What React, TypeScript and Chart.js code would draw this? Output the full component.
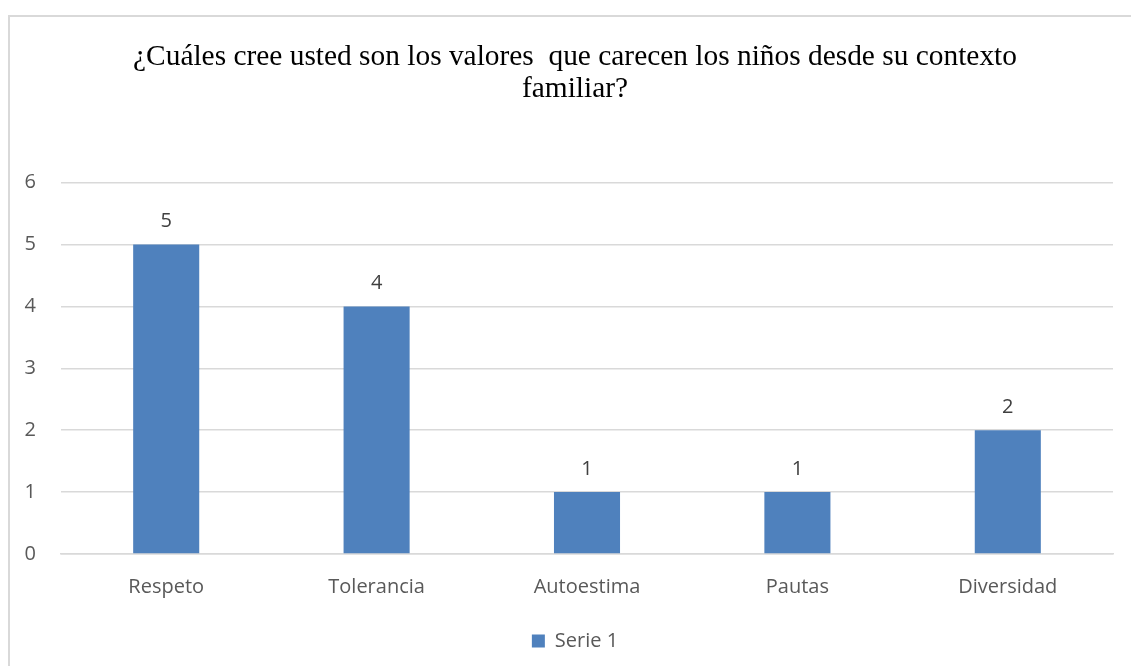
import React, { useEffect, useRef } from "react";
import { Chart, registerables } from "chart.js";

Chart.register(...registerables);

const categories = ["Respeto", "Tolerancia", "Autoestima", "Pautas", "Diversidad"];
const serie1 = [5, 4, 1, 1, 2];
const seriesName = "Serie 1";
const titleLines = [
  "¿Cuáles cree usted son los valores  que carecen los niños desde su contexto",
  "familiar?",
];
const yMin = 0;
const yMax = 6;
const yStep = 1;

const LABEL_FONT = "'Open Sans', Lato, sans-serif";
const TEXT_COLOR = "#595959";
const BAR_COLOR = "#4F81BD";
const GRID_COLOR = "#D9D9D9";

const valueLabels = {
  id: "valueLabels",
  afterDatasetsDraw(chart: any) {
    const ctx = chart.ctx;
    ctx.save();
    ctx.font = `20px ${LABEL_FONT}`;
    ctx.fillStyle = "#404040";
    ctx.textAlign = "center";
    ctx.textBaseline = "middle";
    chart.data.datasets.forEach((ds: any, i: number) => {
      const meta = chart.getDatasetMeta(i);
      meta.data.forEach((el: any, j: number) => {
        ctx.fillText(String(ds.data[j]), el.x, el.y - 23);
      });
    });
    ctx.restore();
  },
};

export default function App() {
  const ref = useRef<HTMLCanvasElement>(null);
  useEffect(() => {
    document.body.style.overflow = "hidden";
    const chart = new Chart(ref.current!, {
      type: "bar",
      data: {
        labels: categories,
        datasets: [
          {
            label: seriesName,
            data: serie1,
            backgroundColor: BAR_COLOR,
            borderWidth: 0,
            categoryPercentage: 1,
            barPercentage: 0.314,
          },
        ],
      },
      options: {
        responsive: false,
        animation: false,
        layout: { padding: { left: 0, right: 0, top: 0, bottom: 5 } },
        plugins: {
          title: {
            display: true,
            text: titleLines,
            color: "#000",
            font: { family: "'Liberation Serif', 'Times New Roman', serif", size: 29.4, weight: "normal", lineHeight: 1.1 },
            padding: { top: 24, bottom: 77 },
          },
          legend: {
            position: "bottom",
            labels: {
              color: TEXT_COLOR,
              font: { family: LABEL_FONT, size: 20 },
              boxWidth: 13,
              boxHeight: 13,
              padding: 10,
            },
          },
          tooltip: { enabled: false },
        },
        scales: {
          x: {
            grid: { display: false, drawTicks: false },
            border: { display: true, color: GRID_COLOR, width: 1.5 },
            ticks: { color: TEXT_COLOR, font: { family: LABEL_FONT, size: 20 }, padding: 21 },
            afterFit(scale: any) {
              scale.height = 67;
            },
          },
          y: {
            min: yMin,
            max: yMax,
            ticks: { stepSize: yStep, color: TEXT_COLOR, font: { family: LABEL_FONT, size: 20 }, padding: 25 },
            grid: { color: GRID_COLOR, drawTicks: false, lineWidth: 1.5 },
            border: { display: false },
            afterFit(scale: any) {
              scale.width = 51;
            },
          },
          yRight: {
            position: "right",
            min: yMin,
            max: yMax,
            ticks: { display: false },
            grid: { display: false, drawTicks: false },
            border: { display: false },
            afterFit(scale: any) {
              scale.width = 27;
            },
          },
        },
      },
      plugins: [valueLabels],
    });
    return () => chart.destroy();
  }, []);
  return (
    <div
      style={{
        position: "absolute",
        left: 8,
        top: 15,
        width: 1140,
        height: 680,
        border: "2px solid #D9D9D9",
        background: "#fff",
      }}
    >
      <canvas ref={ref} width={1130} height={649} style={{ display: "block" }} />
    </div>
  );
}
